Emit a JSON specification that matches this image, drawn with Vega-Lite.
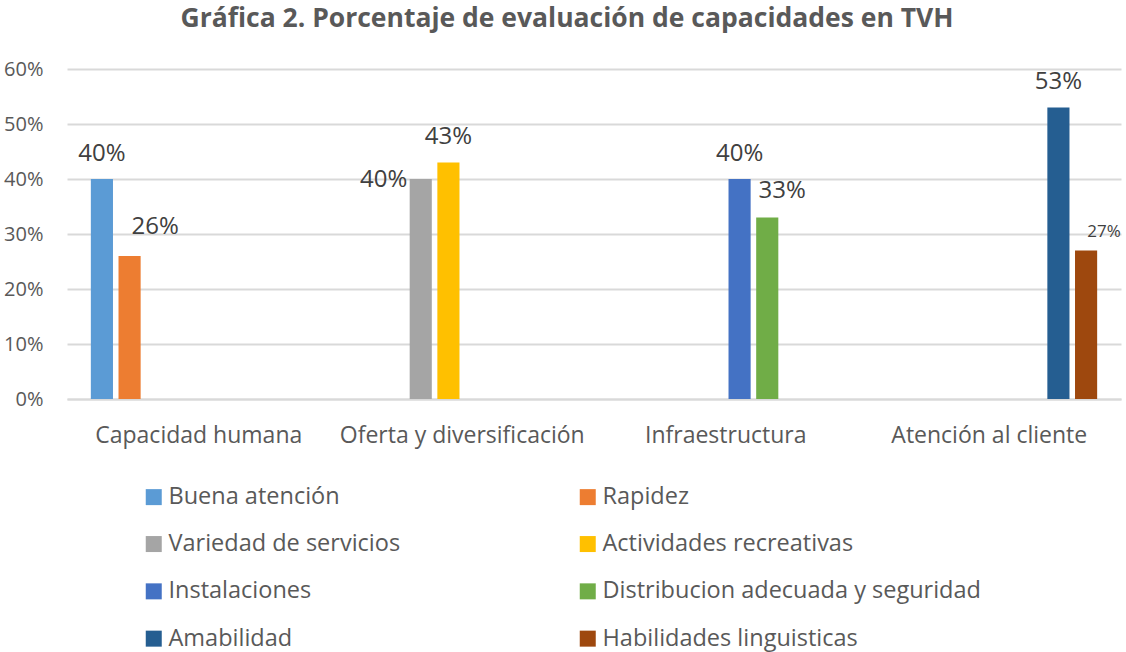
{
  "$schema": "https://vega.github.io/schema/vega-lite/v6.json",
  "autosize": "none",
  "width": 1054,
  "height": 330,
  "padding": {"left": 67, "top": 69, "right": 5, "bottom": 253},
  "background": "white",
  "title": {
    "text": "Gráfica 2. Porcentaje de evaluación de capacidades en TVH",
    "font": "Open Sans",
    "fontSize": 26.5,
    "fontWeight": "bold",
    "color": "#595959",
    "anchor": "middle",
    "frame": "group",
    "dx": -27,
    "offset": 27
  },
  "config": {
    "view": {"stroke": null},
    "font": "Open Sans",
    "text": {"font": "Open Sans", "color": "#404040", "fontSize": 24}
  },
  "data": {
    "values": [
      {"categoria": "Capacidad humana", "serie": "Buena atención", "valor": 0.40},
      {"categoria": "Capacidad humana", "serie": "Rapidez", "valor": 0.26},
      {"categoria": "Oferta y diversificación", "serie": "Variedad de servicios", "valor": 0.40},
      {"categoria": "Oferta y diversificación", "serie": "Actividades recreativas", "valor": 0.43},
      {"categoria": "Infraestructura", "serie": "Instalaciones", "valor": 0.40},
      {"categoria": "Infraestructura", "serie": "Distribucion adecuada y seguridad", "valor": 0.33},
      {"categoria": "Atención al cliente", "serie": "Amabilidad", "valor": 0.53},
      {"categoria": "Atención al cliente", "serie": "Habilidades linguisticas", "valor": 0.27}
    ]
  },
  "encoding": {
    "x": {
      "field": "categoria",
      "type": "nominal",
      "sort": ["Capacidad humana", "Oferta y diversificación", "Infraestructura", "Atención al cliente"],
      "scale": {"paddingInner": 0.16, "paddingOuter": 0.08},
      "axis": {
        "title": null,
        "labelAngle": 0,
        "labelFont": "Open Sans",
        "labelFontSize": 23,
        "labelColor": "#595959",
        "labelPadding": 25,
        "labelBaseline": "top",
        "labelLimit": 400,
        "ticks": false,
        "domain": true,
        "domainColor": "#D9D9D9",
        "domainWidth": 2
      }
    },
    "xOffset": {
      "field": "serie",
      "type": "nominal",
      "scale": {
        "domain": ["Buena atención", "Rapidez", "Variedad de servicios", "Actividades recreativas", "Instalaciones", "Distribucion adecuada y seguridad", "Amabilidad", "Habilidades linguisticas"],
        "paddingInner": 0.2,
        "paddingOuter": 0.1
      }
    },
    "y": {
      "field": "valor",
      "type": "quantitative",
      "scale": {"domain": [0, 0.6], "nice": false},
      "axis": {
        "title": null,
        "format": ".0%",
        "values": [0, 0.1, 0.2, 0.3, 0.4, 0.5, 0.6],
        "labelFont": "Open Sans",
        "labelFontSize": 20,
        "labelColor": "#595959",
        "labelPadding": 24,
        "ticks": false,
        "domain": false,
        "grid": true,
        "gridColor": "#D9D9D9",
        "gridWidth": 2
      }
    }
  },
  "layer": [
    {
      "mark": {"type": "bar"},
      "encoding": {
        "color": {
          "field": "serie",
          "type": "nominal",
          "scale": {
            "domain": ["Buena atención", "Rapidez", "Variedad de servicios", "Actividades recreativas", "Instalaciones", "Distribucion adecuada y seguridad", "Amabilidad", "Habilidades linguisticas"],
            "range": ["#5B9BD5", "#ED7D31", "#A5A5A5", "#FFC000", "#4472C4", "#70AD47", "#255E91", "#9E480E"]
          },
          "legend": {
            "title": null,
            "orient": "none",
            "legendX": 75,
            "legendY": 416,
            "columns": 2,
            "direction": "horizontal",
            "gridAlign": "each",
            "columnPadding": 175,
            "rowPadding": 22.3,
            "symbolType": "square",
            "symbolSize": 256,
            "symbolStrokeWidth": 0,
            "symbolOffset": 0,
            "labelOffset": 3,
            "labelFont": "Open Sans",
            "labelFontSize": 23.5,
            "labelColor": "#595959",
            "labelLimit": 500
          }
        }
      }
    },
    {
      "transform": [{"filter": {"field": "serie", "oneOf": ["Buena atención", "Actividades recreativas", "Instalaciones", "Amabilidad"]}}],
      "mark": {"type": "text", "baseline": "alphabetic", "dy": -18.5},
      "encoding": {"text": {"field": "valor", "format": ".0%"}}
    },
    {
      "transform": [{"filter": {"field": "serie", "equal": "Rapidez"}}],
      "mark": {"type": "text", "baseline": "alphabetic", "dy": -22, "dx": 25.5},
      "encoding": {"text": {"field": "valor", "format": ".0%"}}
    },
    {
      "transform": [{"filter": {"field": "serie", "equal": "Distribucion adecuada y seguridad"}}],
      "mark": {"type": "text", "baseline": "alphabetic", "dy": -20, "dx": 15},
      "encoding": {"text": {"field": "valor", "format": ".0%"}}
    },
    {
      "transform": [{"filter": {"field": "serie", "equal": "Habilidades linguisticas"}}],
      "mark": {"type": "text", "baseline": "alphabetic", "dy": -14, "dx": 18, "fontSize": 17},
      "encoding": {"text": {"field": "valor", "format": ".0%"}}
    },
    {
      "transform": [{"filter": {"field": "serie", "equal": "Variedad de servicios"}}],
      "mark": {"type": "text", "baseline": "middle", "align": "right", "dx": -13.5, "dy": 1},
      "encoding": {"text": {"field": "valor", "format": ".0%"}}
    }
  ]
}
